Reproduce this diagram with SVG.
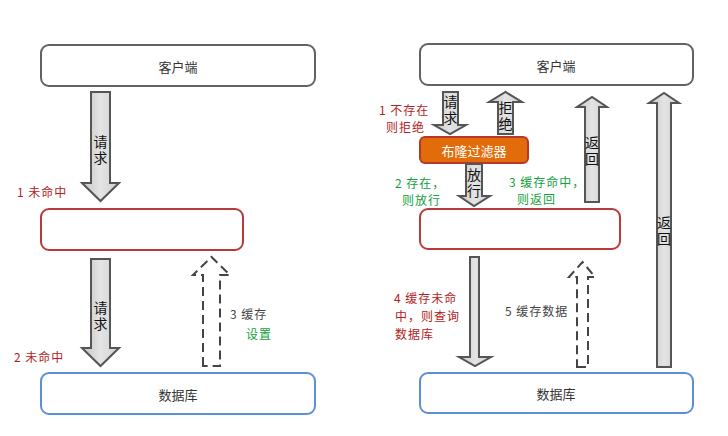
<svg xmlns="http://www.w3.org/2000/svg" width="728" height="436" viewBox="0 0 728 436">
<defs>
<linearGradient id="g" x1="0" y1="0" x2="1" y2="0">
<stop offset="0" stop-color="#c4c4c4"/>
<stop offset="0.5" stop-color="#e4e4e4"/>
<stop offset="1" stop-color="#cfcfcf"/>
</linearGradient>
</defs>
<style>
text{font-family:"Noto Sans CJK SC","Liberation Sans",sans-serif;}
.box{fill:#fff;stroke-width:2;}
.client{stroke:#5f6363;}
.cache{stroke:#b83b3b;}
.db{stroke:#5b8fd6;}
.lbl{font-size:13px;fill:#333;text-anchor:middle;dominant-baseline:central;}
.arr{fill:url(#g);stroke:#555;stroke-width:2;stroke-linejoin:miter;}
.dash{fill:none;stroke:#444;stroke-width:2;stroke-dasharray:9,5;}
.at{font-size:14px;fill:#111;text-anchor:middle;writing-mode:vertical-rl;letter-spacing:2px;}
.red{font-size:12px;fill:#b22222;letter-spacing:1px;dominant-baseline:central;}
.grn{font-size:12px;fill:#12a040;letter-spacing:1px;dominant-baseline:central;}
.gry{font-size:12px;fill:#444;letter-spacing:1px;dominant-baseline:central;}
</style>
<g id="left-client"><rect class="box client" x="41" y="45" width="274" height="41" rx="8"/><text class="lbl" x="178" y="66">客户端</text></g>
<g id="left-cache"><rect class="box cache" x="41" y="209" width="202" height="41" rx="8"/></g>
<g id="left-db"><rect class="box db" x="41" y="373" width="274" height="41" rx="8"/><text class="lbl" x="178" y="394">数据库</text></g>
<g id="right-client"><rect class="box client" x="420" y="44" width="273" height="41" rx="8"/><text class="lbl" x="556" y="65">客户端</text></g>
<g id="bloom"><rect x="420" y="137" width="108" height="26" rx="5" fill="#e36c0a" stroke="#b5382a" stroke-width="2"/><text class="lbl" x="474" y="150" style="fill:#fff;font-size:13px">布隆过滤器</text></g>
<g id="right-cache"><rect class="box cache" x="420" y="209" width="200" height="40" rx="8"/></g>
<g id="right-db"><rect class="box db" x="420" y="373" width="273" height="40" rx="8"/><text class="lbl" x="556" y="393">数据库</text></g>
<g id="connectors">
<polygon class="arr" points="91,92 110,92 110,183 119,183 100.5,201 82,183 91,183"/>
<text class="at" x="100.5" y="151">请求</text>
<polygon class="arr" points="91,259 110,259 110,348 119,348 100.5,366 82,348 91,348"/>
<text class="at" x="100.5" y="317">请求</text>
<polygon class="dash" points="203,366 203,275 193,275 211.5,257 230,275 220,275 220,366"/>
<polygon class="arr" points="443,92 458,92 458,125 466,125 450,134 434,125 443,125"/>
<text class="at" x="450.5" y="111">请求</text>
<polygon class="arr" points="498,134 513,134 513,102 522,102 505.5,92 489,102 498,102"/>
<text class="at" x="505.5" y="117">拒绝</text>
<polygon class="arr" points="466,164 482,164 482,196 490,196 474,206 459,196 466,196"/>
<text class="at" x="474" y="184">放行</text>
<polygon class="arr" points="585,202 599,202 599,107 607,107 592,97 577,107 585,107"/>
<text class="at" x="592" y="152">返回</text>
<polygon class="arr" points="657,367 671,367 671,103 679,103 664,93 649,103 657,103"/>
<text class="at" x="664" y="232">返回</text>
<polygon class="arr" points="470,257 479,257 479,357 491,357 475,366 459,357 470,357"/>
<polygon class="dash" points="577,367 588,367 588,277 595,277 582.5,262 569,277 577,277"/>
</g>
<g id="labels">
<text class="red" x="17" y="191">1 未命中</text>
<text class="red" x="14" y="356">2 未命中</text>
<text class="gry" x="230" y="313">3 缓存</text>
<text class="grn" x="246" y="333">设置</text>
<text class="red" x="379" y="109">1 不存在</text>
<text class="red" x="386" y="126.8">则拒绝</text>
<text class="grn" x="395" y="182">2 存在，</text>
<text class="grn" x="402" y="199.8">则放行</text>
<text class="grn" x="509" y="181">3 缓存命中，</text>
<text class="grn" x="517" y="198.8">则返回</text>
<text class="red" x="394" y="297.5">4 缓存未命</text>
<text class="red" x="395" y="315.3">中，则查询</text>
<text class="red" x="395" y="333.1">数据库</text>
<text class="gry" x="505" y="310">5 缓存数据</text>
</g>
</svg>
